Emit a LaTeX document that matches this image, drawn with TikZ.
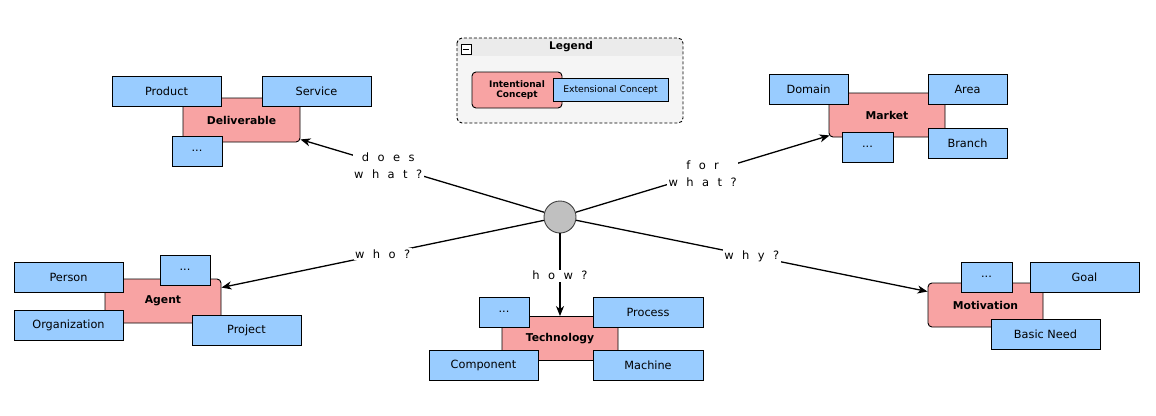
\documentclass[tikz,border=0pt]{standalone}
\usepackage{fontspec}
\setmainfont{DejaVu Sans}
\newfontfamily\lblfont[WordSpace=2.3]{DejaVu Sans}
\usetikzlibrary{arrows.meta,calc}
\definecolor{pinkc}{HTML}{F8A3A3}
\definecolor{bluec}{HTML}{99CCFF}
\definecolor{legbody}{HTML}{F5F5F5}
\definecolor{leghead}{HTML}{EBEBEB}
\definecolor{hubfill}{HTML}{C0C0C0}
\begin{document}
\begin{tikzpicture}[x=1pt,y=-1pt,
  ibox/.style={draw=black, line width=0.9pt, fill=pinkc, rounded corners=4pt, inner sep=0pt,
    font=\bfseries\fontsize{10.8}{12}\selectfont, align=center},
  ebox/.style={draw=black, line width=0.9pt, fill=bluec, inner sep=0pt, minimum width=109pt, minimum height=30pt,
    font=\fontsize{11.3}{13}\selectfont},
  lbl/.style={fill=white, inner sep=1.5pt, align=center,
    font=\lblfont\fontsize{11.5}{17}\selectfont},
  conn/.style={line width=1.3pt, -{Stealth[length=10pt,width=8pt,inset=3pt]}},
  hub/.style={circle, draw=black!75, line width=0.9pt, fill=hubfill, minimum size=32pt, inner sep=0pt}
]
\useasboundingbox (0,0) rectangle (1156,415);

% Legend
\begin{scope}
  \clip[rounded corners=5pt] (457,38) rectangle (683,123);
  \fill[legbody] (457,38) rectangle (683,123);
  \fill[leghead] (457,38) rectangle (683,56);
\end{scope}
\draw[black, line width=0.9pt, dash pattern=on 3pt off 2pt, rounded corners=5pt] (457,38) rectangle (683,123);
\node[draw=black, line width=0.8pt, fill=white, minimum size=10pt, inner sep=0pt] (minus) at (466,49.5) {};
\draw[line width=1.2pt] ($(minus.west)+(2,0)$) -- ($(minus.east)+(-2,0)$);
\node[font=\bfseries\fontsize{10.6}{12}\selectfont] (legtitle) at (571,47) {Legend};
\node[ibox, minimum width=90pt, minimum height=36pt, font=\bfseries\fontsize{9}{11}\selectfont] (legint) at (517,90) {\begin{tabular}{@{}c@{}}Intentional\\[-1pt]Concept\end{tabular}};
\node[ebox, minimum width=115pt, minimum height=23pt, font=\fontsize{9.2}{11}\selectfont] (legext) at (610.5,89.5) {Extensional Concept};

% Deliverable
\node[ibox, minimum width=117pt, minimum height=44pt] (deliv) at (241.5,120) {Deliverable};
\node[ebox] (product) at (166.5,91) {Product};
\node[ebox] (service) at (316.5,91) {Service};
\node[ebox, minimum width=50pt] (dmore) at (197,151) {...};

% Market
\node[ibox, minimum width=116pt, minimum height=44pt] (market) at (887,115) {Market};
\node[ebox, minimum width=79pt] (domain) at (808.5,89) {Domain};
\node[ebox, minimum width=79pt] (area) at (967.5,89) {Area};
\node[ebox, minimum width=51pt] (mmore) at (867.5,147) {...};
\node[ebox, minimum width=79pt] (branch) at (967.5,143) {Branch};

% Agent
\node[ibox, minimum width=116pt, minimum height=44pt] (agent) at (163,301) {Agent};
\node[ebox] (person) at (68.5,277.5) {Person};
\node[ebox, minimum width=50pt] (amore) at (185,270) {...};
\node[ebox] (org) at (68.5,325) {Organization};
\node[ebox] (project) at (246.5,330) {Project};

% Technology
\node[ibox, minimum width=116pt, minimum height=44pt] (tech) at (560,338.5) {Technology};
\node[ebox, minimum width=50pt] (tmore) at (504,312) {...};
\node[ebox, minimum width=110pt] (process) at (648,312) {Process};
\node[ebox] (component) at (483.5,365) {Component};
\node[ebox, minimum width=110pt] (machine) at (648,365) {Machine};

% Motivation
\node[ibox, minimum width=115pt, minimum height=44pt] (motiv) at (985.5,305) {Motivation};
\node[ebox, minimum width=51pt] (momore) at (986.5,277) {...};
\node[ebox] (goal) at (1084.5,277) {Goal};
\node[ebox] (need) at (1045.5,334) {Basic Need};

% Hub and connectors
\node[hub] (hub) at (560,217) {};
\coordinate (tdeliv) at ($(deliv.south east)+(0,-3)$);
\coordinate (tmarket) at ($(market.south west)+(1,-2)$);
\coordinate (tagent) at ($(agent.north east)!0.2!(agent.south east)$);
\coordinate (tmotiv) at ($(motiv.north west)!0.2!(motiv.south west)$);

\draw[conn] (hub) -- node[lbl, pos=0.64] {d o e s\\w h a t ?} (tdeliv);
\draw[conn] (hub) -- node[lbl, pos=0.5] {f o r\\w h a t ?} (tmarket);
\draw[conn] (hub) -- node[lbl, pos=0.5] {w h o ?} (tagent);
\draw[conn] (hub) -- node[lbl, pos=0.5] {w h y ?} (tmotiv);
\draw[conn] (hub) -- node[lbl, pos=0.51] {h o w ?} (tech.north);
\end{tikzpicture}
\end{document}
